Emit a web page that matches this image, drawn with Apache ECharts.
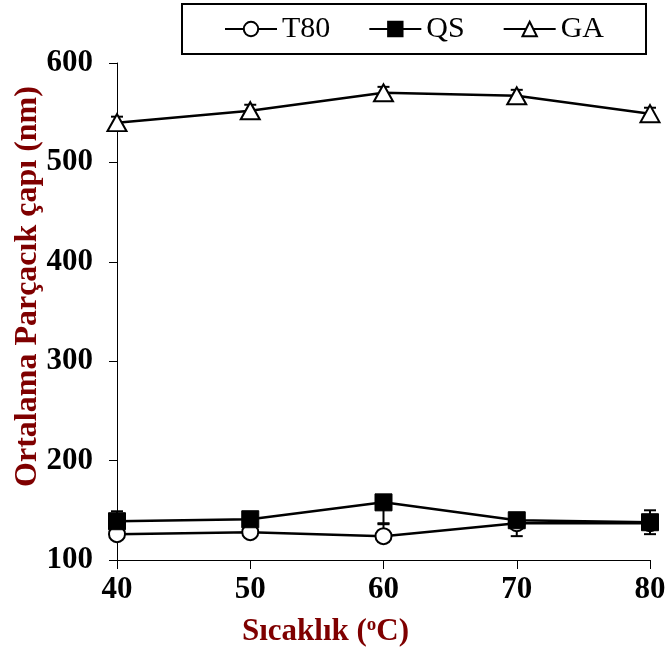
<!DOCTYPE html>
<html>
<head>
<meta charset="utf-8">
<script src="https://cdn.jsdelivr.net/npm/echarts@6/dist/echarts.min.js"></script>
<style>
  html, body { margin: 0; padding: 0; background: #fff; }
  #chart { width: 666px; height: 651px; }
</style>
</head>
<body>
<div id="chart"></div>
<script>
// Temperature (°C)
var temperatures = [40, 50, 60, 70, 80];

// Mean particle size (nm)
var t80Values = [126, 128, 124, 137, 137];
var qsValues  = [139, 141, 158, 140, 138];
var gaValues  = [540, 552, 570, 567, 549];

// Error bar extents (nm), above / below each mean
var t80ErrUp   = [4, 4, 12, 10, 4];
var t80ErrDown = [4, 4, 6, 13, 4];
var qsErrUp    = [10, 5, 5, 5, 12];
var qsErrDown  = [10, 5, 21, 5, 12];
var gaErrUp    = [6, 6, 6, 6, 6];
var gaErrDown  = [6, 6, 6, 6, 6];

var yTicks = [100, 200, 300, 400, 500, 600];

var FONT = '"Liberation Serif", "Times New Roman", serif';
var TITLE_RED = '#7f0000';

function pairs(vals) {
  return temperatures.map(function (t, i) { return [t, vals[i]]; });
}
function errItems(vals, up, down) {
  return temperatures.map(function (t, i) { return [t, vals[i] - down[i], vals[i] + up[i]]; });
}

function renderErr(params, api) {
  var x = api.value(0);
  var lo = api.coord([x, api.value(1)]);
  var hi = api.coord([x, api.value(2)]);
  var hw = 6;
  var st = { stroke: '#000', lineWidth: 2 };
  return {
    type: 'group',
    children: [
      { type: 'line', shape: { x1: lo[0], y1: lo[1], x2: hi[0], y2: hi[1] }, style: st },
      { type: 'line', shape: { x1: lo[0] - hw, y1: lo[1], x2: lo[0] + hw, y2: lo[1] }, style: st },
      { type: 'line', shape: { x1: hi[0] - hw, y1: hi[1], x2: hi[0] + hw, y2: hi[1] }, style: st }
    ]
  };
}

var chart = echarts.init(document.getElementById('chart'), null, { renderer: 'canvas' });

chart.setOption({
  animation: false,
  backgroundColor: '#fff',
  grid: { left: 117, right: 16, top: 63, bottom: 91, containLabel: false, outerBoundsMode: 'none' },
  legend: {
    data: ['T80', 'QS', 'GA'],
    left: 182,
    top: 4,
    padding: [10, 42, 10, 42],
    itemGap: 38,
    itemWidth: 52,
    itemHeight: 18,
    borderColor: '#000',
    borderWidth: 2,
    textStyle: { fontFamily: FONT, fontSize: 30, color: '#000' }
  },
  xAxis: {
    type: 'value',
    min: 40,
    max: 80,
    interval: 10,
    name: '{t|Sıcaklık (}{s|o}{t|C)}',
    nameLocation: 'middle',
    nameGap: 56,
    nameMoveOverlap: false,
    nameTextStyle: {
      padding: [0, 116, 0, 0],
      rich: {
        t: { fontFamily: FONT, fontSize: 31, fontWeight: 'bold', color: TITLE_RED },
        s: { fontFamily: FONT, fontSize: 19, fontWeight: 'bold', color: TITLE_RED, verticalAlign: 'top', padding: [0, 0, 12, 0] }
      }
    },
    axisLine: { lineStyle: { color: '#000', width: 1 } },
    axisTick: { show: true, length: 9, lineStyle: { color: '#000' } },
    axisLabel: { fontFamily: FONT, fontSize: 31, fontWeight: 'bold', color: '#000', margin: 14 },
    splitLine: { show: false }
  },
  yAxis: {
    type: 'value',
    min: yTicks[0],
    max: yTicks[yTicks.length - 1],
    interval: 100,
    name: 'Ortalama Parçacık çapı (nm)',
    nameLocation: 'middle',
    nameGap: 73,
    nameRotate: 90,
    nameMoveOverlap: false,
    nameTextStyle: { fontFamily: FONT, fontSize: 32, fontWeight: 'bold', color: TITLE_RED, padding: [0, 0, 0, 50] },
    axisLine: { show: true, lineStyle: { color: '#000', width: 1 } },
    axisTick: { show: true, length: 8, lineStyle: { color: '#000' } },
    axisLabel: { fontFamily: FONT, fontSize: 31, fontWeight: 'bold', color: '#000', margin: 24 },
    splitLine: { show: false }
  },
  series: [
    { type: 'custom', name: 'errT80', renderItem: renderErr, data: errItems(t80Values, t80ErrUp, t80ErrDown), z: 1, silent: true },
    { type: 'custom', name: 'errQS', renderItem: renderErr, data: errItems(qsValues, qsErrUp, qsErrDown), z: 1, silent: true },
    { type: 'custom', name: 'errGA', renderItem: renderErr, data: errItems(gaValues, gaErrUp, gaErrDown), z: 1, silent: true },
    {
      name: 'T80', type: 'line', data: pairs(t80Values), z: 3,
      symbol: 'circle', symbolSize: 16, showAllSymbol: true,
      lineStyle: { color: '#000', width: 2.5 },
      itemStyle: { color: '#fff', borderColor: '#000', borderWidth: 2 }
    },
    {
      name: 'QS', type: 'line', data: pairs(qsValues), z: 4,
      symbol: 'rect', symbolSize: 17, showAllSymbol: true,
      lineStyle: { color: '#000', width: 2.5 },
      itemStyle: { color: '#000', borderColor: '#000', borderWidth: 1 }
    },
    {
      name: 'GA', type: 'line', data: pairs(gaValues), z: 3,
      symbol: 'triangle', symbolSize: [19, 17], showAllSymbol: true,
      lineStyle: { color: '#000', width: 2.5 },
      itemStyle: { color: '#fff', borderColor: '#000', borderWidth: 2 }
    }
  ]
});
</script>
</body>
</html>
